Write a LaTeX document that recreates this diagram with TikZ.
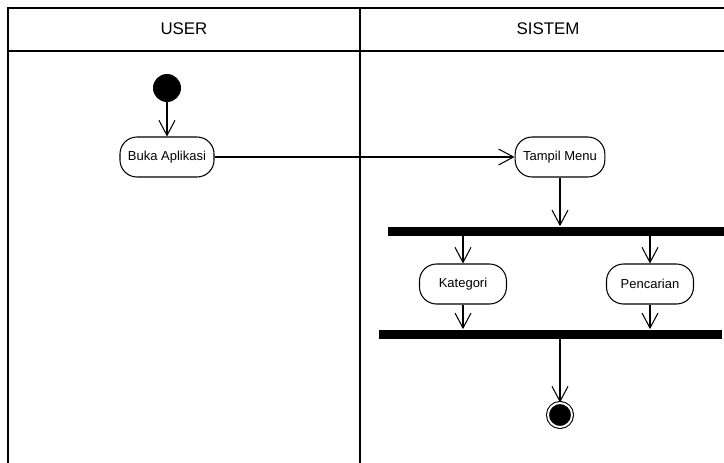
\documentclass[tikz,border=0pt]{standalone}
\usepackage{fontspec}
\setmainfont{Liberation Sans}
\usetikzlibrary{arrows.meta}

\begin{document}
\begin{tikzpicture}[x=0.02cm,y=-0.02cm,
  aktivitas/.style={draw,rectangle,rounded corners=0.34cm,fill=white,minimum width=1.74cm,minimum height=0.8cm,inner xsep=0.16cm,line width=0.6pt,font=\fontsize{7.4}{8.8}\selectfont},
  palang/.style={fill=black,rectangle,inner sep=0,minimum height=0.18cm},
  panah/.style={-{Straight Barb[length=0.3cm,width=0.32cm]},line width=0.6pt},
  judul/.style={font=\fontsize{9.6}{11}\selectfont}]
\useasboundingbox (0,0) rectangle (724,463);
\draw[line width=0.8pt] (724,8)--(8,8)--(8,463);
\draw[line width=0.8pt] (8,51)--(724,51);
\draw[line width=0.8pt] (360,8)--(360,463);
\node[judul] (user) at (184,29) {USER};
\node[judul] (sistem) at (548,29) {SISTEM};
\node[circle,fill=black,inner sep=0,minimum size=0.56cm] (mulai) at (167,88) {};
\node[aktivitas] (buka) at (167,157) {Buka Aplikasi};
\node[aktivitas] (menu) at (560,157) {Tampil Menu};
\node[palang,minimum width=6.72cm] (fork) at (556,231) {};
\node[aktivitas] (kategori) at (463,284) {Kategori};
\node[aktivitas] (cari) at (650,284) {Pencarian};
\node[palang,minimum width=6.86cm] (join) at (550.5,334) {};
\node[circle,draw,fill=black,inner sep=0,minimum size=0.48cm,line width=0.6pt,double=white,double distance=1.1pt] (selesai) at (560,415) {};
\draw[panah] (mulai)--(buka);
\draw[panah] (buka)--(menu);
\draw[panah] (menu)--(menu|-fork.north);
\draw[panah] (fork.south-|kategori)--(kategori);
\draw[panah] (fork.south-|cari)--(cari);
\draw[panah] (kategori)--(kategori|-join.north);
\draw[panah] (cari)--(cari|-join.north);
\draw[panah] (join.south-|selesai)--(selesai);
\end{tikzpicture}
\end{document}
